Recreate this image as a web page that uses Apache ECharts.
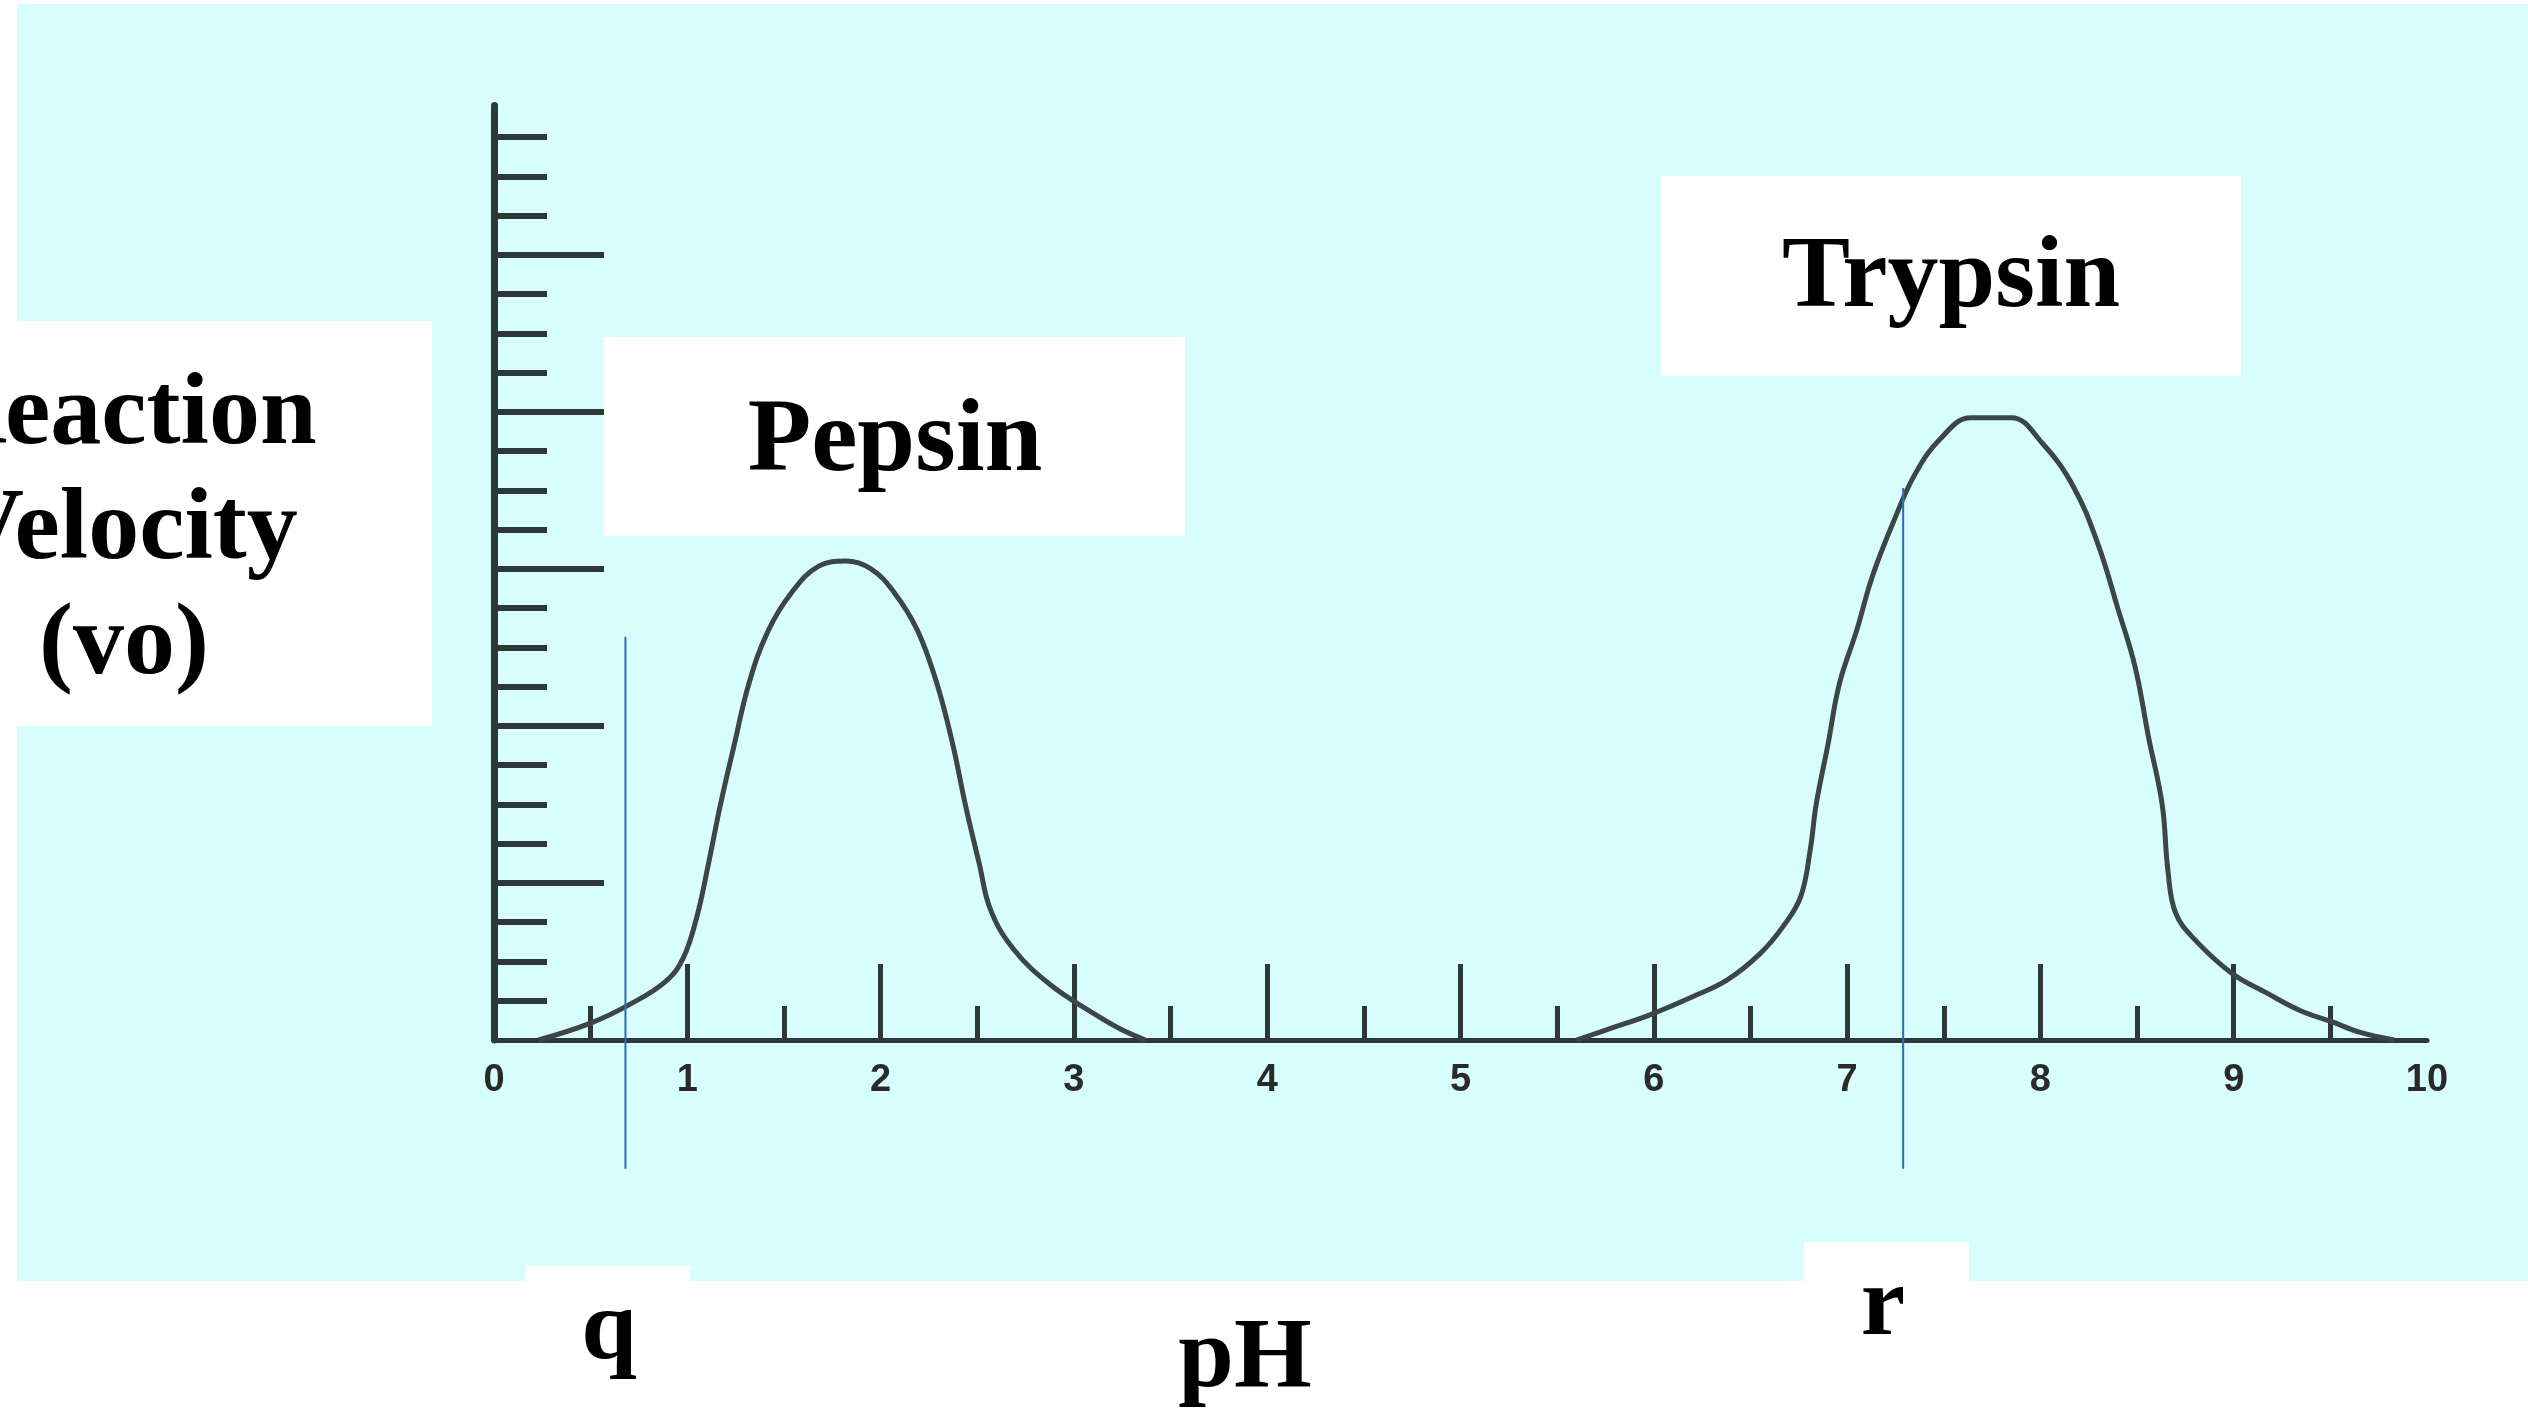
<!DOCTYPE html>
<html>
<head>
<meta charset="utf-8">
<script src="https://cdn.jsdelivr.net/npm/echarts@6/dist/echarts.min.js"></script>
<style>
  html, body { margin: 0; padding: 0; background: #ffffff; }
  #chart { width: 2528px; height: 1415px; }
</style>
</head>
<body>
<div id="chart"></div>
<script>
// ---- data ----
const pepsinPH = [0.23, 0.50, 0.70, 0.89, 0.98, 1.05, 1.11, 1.17, 1.24, 1.32, 1.42, 1.54, 1.68, 1.82, 1.95, 2.07, 2.19, 2.29, 2.37, 2.44, 2.51, 2.57, 2.69, 2.88, 3.11, 3.24, 3.37];
const pepsinV  = [0.0, 0.43, 0.9, 1.5, 2.1, 3.15, 4.5, 5.96, 7.46, 9.1, 10.44, 11.4, 12.07, 12.2, 12.0, 11.4, 10.44, 9.1, 7.6, 5.96, 4.5, 3.3, 2.3, 1.4, 0.65, 0.28, 0.0];
const trypsinPH = [5.60, 5.78, 5.98, 6.20, 6.38, 6.55, 6.67, 6.76, 6.81, 6.84, 6.90, 6.96, 7.05, 7.13, 7.24, 7.35, 7.48, 7.64, 7.85, 8.01, 8.17, 8.30, 8.40, 8.49, 8.56, 8.63, 8.66, 8.70, 8.80, 8.99, 9.17, 9.34, 9.51, 9.65, 9.83];
const trypsinV  = [0.0, 0.3, 0.64, 1.1, 1.53, 2.2, 2.9, 3.65, 4.87, 6.0, 7.5, 9.07, 10.44, 11.8, 13.2, 14.4, 15.3, 15.85, 15.85, 15.2, 14.1, 12.6, 11.0, 9.5, 7.7, 6.0, 4.3, 3.23, 2.55, 1.7, 1.2, 0.76, 0.46, 0.2, 0.0];
const markerNames = ['q', 'r'];
const markerPH = [0.68, 7.29];
const markerTop = [10.27, 14.06];
const markerBottom = [-3.28, -3.28];
const xTickLabels = [0, 1, 2, 3, 4, 5, 6, 7, 8, 9, 10];
const xMajorTicks = [1, 2, 3, 4, 5, 6, 7, 8, 9];
const xMinorTicks = [0.5, 1.5, 2.5, 3.5, 4.5, 5.5, 6.5, 7.5, 8.5, 9.5];
const yMinorTicks = [1, 2, 3, 4, 5, 6, 7, 8, 9, 10, 11, 12, 13, 14, 15, 16, 17, 18, 19, 20, 21, 22, 23];
const yMajorTicks = [4, 8, 12, 16, 20];
const yAxisMax = 23.8;
const xAxisLabel = 'pH';
const yAxisLabel = 'Reaction\nVelocity\n(vo)';
const curveNames = ['Pepsin', 'Trypsin'];

// ---- chart ----
const axisColor = '#2e3838';
const curveColor = '#3c4646';
const blue = '#2e6cb8';
const serif = '"Liberation Serif", "DejaVu Serif", serif';

const zip = (a, b) => a.map((v, i) => [v, b[i]]);

const chart = echarts.init(document.getElementById('chart'), null, { renderer: 'canvas' });

const option = {
  backgroundColor: '#ffffff',
  animation: false,
  grid: [
    { left: 494, right: 101, top: 105.6, bottom: 375 },
    { left: 494, right: 101, top: 105.6, bottom: 218 }
  ],
  xAxis: [
    {
      gridIndex: 0, type: 'value', min: 0, max: 10, position: 'bottom',
      axisLine: { show: true, onZero: false, lineStyle: { color: axisColor, width: 5 } },
      axisTick: { show: true, inside: true, length: 76, customValues: xMajorTicks, lineStyle: { color: axisColor, width: 5 } },
      axisLabel: { show: true, customValues: xTickLabels, margin: 22, fontSize: 38, fontWeight: 'bold', color: '#2a2a2a', fontFamily: '"Liberation Sans Narrow", "Liberation Sans", Arial, sans-serif' },
      splitLine: { show: false }
    },
    {
      gridIndex: 0, type: 'value', min: 0, max: 10, position: 'bottom',
      axisLine: { show: false },
      axisTick: { show: true, inside: true, length: 34, customValues: xMinorTicks, lineStyle: { color: axisColor, width: 5 } },
      axisLabel: { show: false },
      splitLine: { show: false }
    },
    { gridIndex: 1, type: 'value', min: 0, max: 10, show: false, splitLine: { show: false } }
  ],
  yAxis: [
    {
      gridIndex: 0, type: 'value', min: 0, max: yAxisMax, position: 'left',
      axisLine: { show: true, onZero: false, lineStyle: { color: axisColor, width: 7 } },
      axisTick: { show: true, inside: true, length: 53, customValues: yMinorTicks, lineStyle: { color: axisColor, width: 6 } },
      axisLabel: { show: false },
      splitLine: { show: false }
    },
    {
      gridIndex: 0, type: 'value', min: 0, max: yAxisMax, position: 'left',
      axisLine: { show: false },
      axisTick: { show: true, inside: true, length: 110, customValues: yMajorTicks, lineStyle: { color: axisColor, width: 6 } },
      axisLabel: { show: false },
      splitLine: { show: false }
    },
    { gridIndex: 1, type: 'value', min: -4, max: yAxisMax, show: false, splitLine: { show: false } }
  ],
  series: [
    {
      name: curveNames[0], type: 'line', xAxisIndex: 0, yAxisIndex: 0,
      data: zip(pepsinPH, pepsinV), smooth: 0.4, showSymbol: false, symbol: 'none',
      lineStyle: { color: curveColor, width: 5 }, z: 3
    },
    {
      name: curveNames[1], type: 'line', xAxisIndex: 0, yAxisIndex: 0,
      data: zip(trypsinPH, trypsinV), smooth: 0.4, showSymbol: false, symbol: 'none',
      lineStyle: { color: curveColor, width: 5 }, z: 3
    },
    ...markerNames.map((n, i) => ({
      name: n, type: 'line', xAxisIndex: 2, yAxisIndex: 2,
      data: [[markerPH[i], markerTop[i]], [markerPH[i], markerBottom[i]]],
      showSymbol: false, symbol: 'none',
      lineStyle: { color: blue, width: 2 }, z: 5
    }))
  ],
  graphic: [
    { type: 'rect', silent: true, z: -10, shape: { x: 17, y: 4, width: 2511, height: 1277 }, style: { fill: '#d8fdfd' } },
    // white label boxes
    { type: 'rect', silent: true, z: 1, shape: { x: 17, y: 321, width: 415, height: 405 }, style: { fill: '#ffffff' } },
    { type: 'rect', silent: true, z: 1, shape: { x: 604, y: 337, width: 581, height: 199 }, style: { fill: '#ffffff' } },
    { type: 'rect', silent: true, z: 1, shape: { x: 1661, y: 176, width: 580, height: 200 }, style: { fill: '#ffffff' } },
    { type: 'rect', silent: true, z: 1, shape: { x: 525, y: 1266, width: 165, height: 20 }, style: { fill: '#ffffff' } },
    { type: 'rect', silent: true, z: 1, shape: { x: 1804, y: 1242, width: 165, height: 44 }, style: { fill: '#ffffff' } },
    // texts
    { type: 'text', silent: true, z: 10, x: 124, y: 532,
      style: { text: yAxisLabel, font: 'bold 102px ' + serif, fill: '#000', align: 'center', verticalAlign: 'middle', lineHeight: 115 } },
    { type: 'text', silent: true, z: 10, x: 895, y: 443,
      style: { text: curveNames[0], font: 'bold 104px ' + serif, fill: '#000', align: 'center', verticalAlign: 'middle' } },
    { type: 'text', silent: true, z: 10, x: 1951, y: 280,
      style: { text: curveNames[1], font: 'bold 102px ' + serif, fill: '#000', align: 'center', verticalAlign: 'middle' } },
    { type: 'text', silent: true, z: 10, x: 609, y: 1332,
      style: { text: markerNames[0], font: 'bold 100px ' + serif, fill: '#000', align: 'center', verticalAlign: 'middle' } },
    { type: 'text', silent: true, z: 10, x: 1245, y: 1360,
      style: { text: xAxisLabel, font: 'bold 100px ' + serif, fill: '#000', align: 'center', verticalAlign: 'middle' } },
    { type: 'text', silent: true, z: 10, x: 1883, y: 1308,
      style: { text: markerNames[1], font: 'bold 100px ' + serif, fill: '#000', align: 'center', verticalAlign: 'middle' } }
  ]
};

chart.setOption(option);
</script>
</body>
</html>
